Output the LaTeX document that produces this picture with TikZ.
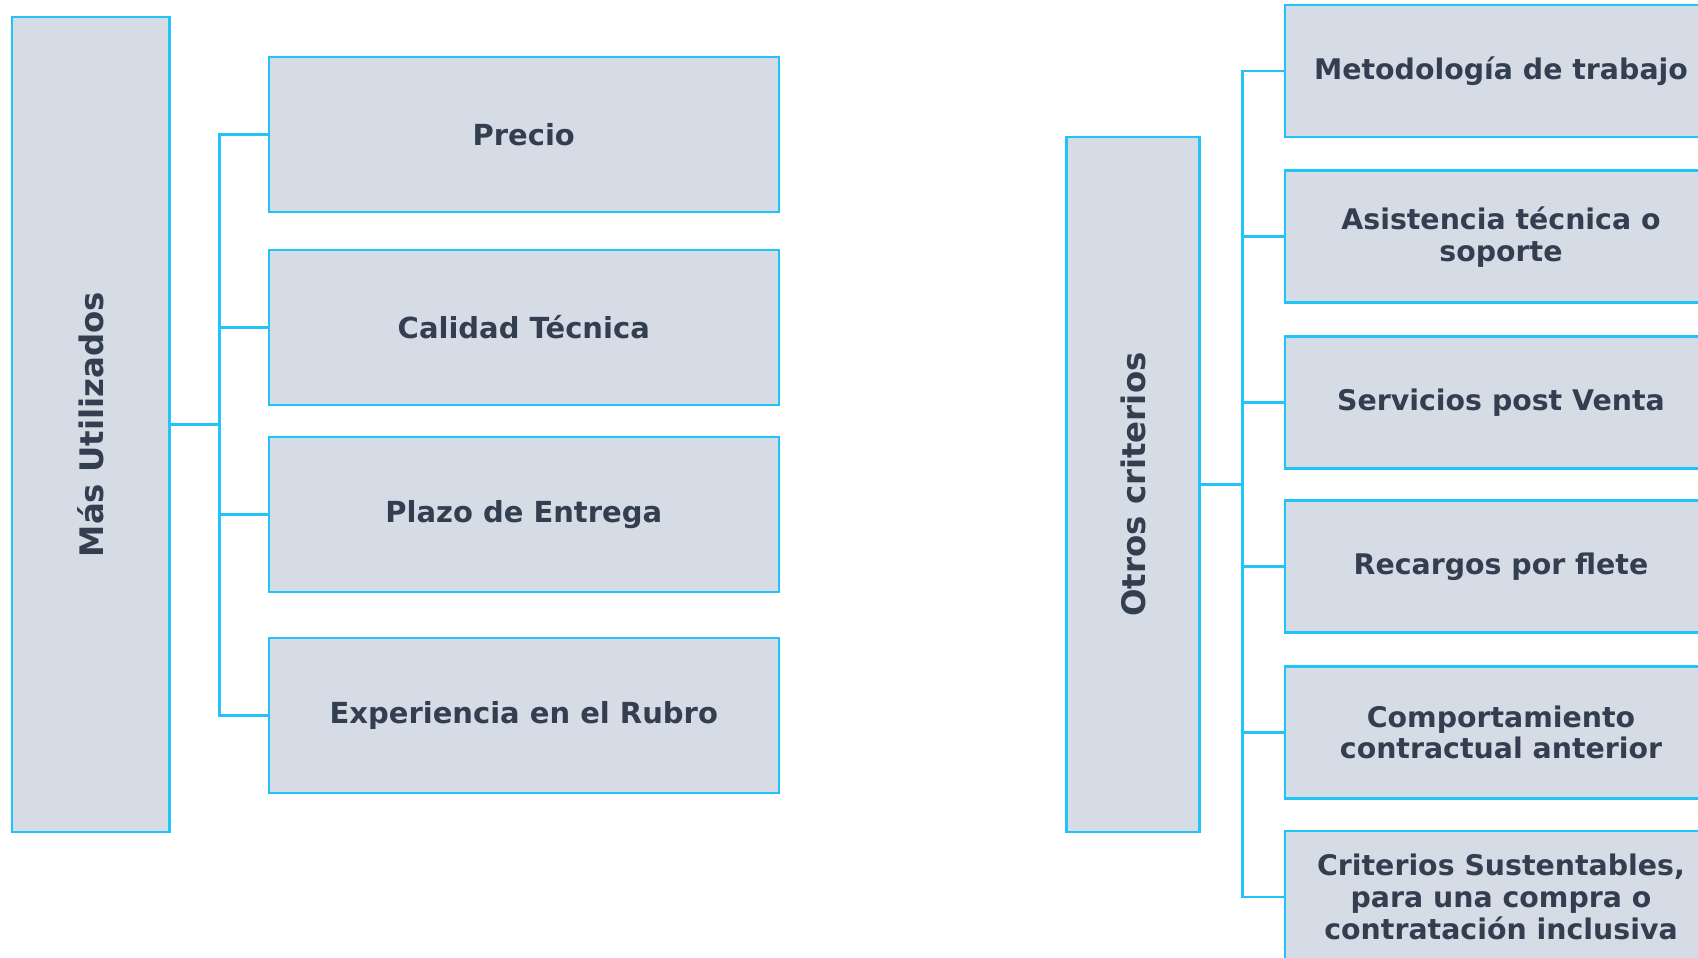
\documentclass[tikz,border=0pt]{standalone}
\usepackage{fontspec}
\setmainfont{DejaVu Sans}
\definecolor{boxfill}{HTML}{D6DCE5}
\definecolor{boxline}{HTML}{22C4F7}
\definecolor{boxtext}{HTML}{333F50}
\tikzstyle{crit} = [draw=boxline,fill=boxfill,line width=1.25pt,text=boxtext,align=center,inner sep=0pt]
\tikzstyle{root} = [crit,font=\fontsize{16.2}{19}\selectfont\bfseries]
\tikzstyle{item} = [crit,font=\fontsize{14.5}{15.9}\selectfont\bfseries,minimum width=255pt,minimum height=77.5pt]
\tikzstyle{extra} = [crit,font=\fontsize{14.2}{15.9}\selectfont\bfseries,minimum width=216pt,minimum height=66pt]
\tikzstyle{link} = [draw=boxline,line width=1.25pt]

\begin{document}
\begin{tikzpicture}[x=0.5pt,y=-0.5pt]
      \useasboundingbox (0,0) rectangle (1698,958);
      \clip (0,0) rectangle (1698,958);
      %roots
      \node[root,minimum width=78.75pt,minimum height=407.5pt] (mas) at (90.75,424.5) {\rotatebox{90}{Más Utilizados}};
      \node[root,minimum width=66.35pt,minimum height=347.5pt] (otros) at (1133,484.5) {\rotatebox{90}{Otros criterios}};
      %nodes
      \foreach \nodename/\y/\label in {
        precio/134.7/Precio,
        calidad/327.5/Calidad Técnica,
        plazo/514.4/Plazo de Entrega,
        rubro/715.7/Experiencia en el Rubro}
      {
        \node[item] (\nodename) at (523.75,\y) {\label};
      };
      \foreach \nodename/\y/\label in {
        metodo/71/Metodología de trabajo,
        asist/236.7/Asistencia técnica o\\soporte,
        post/402.5/Servicios post Venta,
        flete/566.6/Recargos por flete,
        contrato/732.4/Comportamiento\\contractual anterior,
        sust/897/{Criterios Sustentables,\\para una compra o\\contratación inclusiva}}
      {
        \node[extra] (\nodename) at (1501,\y) {\label};
      };
      %edges
      \coordinate (masjoint) at (219.3,424.5);
      \coordinate (otrosjoint) at (1242.6,484.5);
      \foreach \endnode in {precio,calidad,plazo,rubro}
      {
        \draw[link] (mas.east) -- (masjoint) |- (\endnode.west);
      };
      \foreach \endnode in {metodo,asist,post,flete,contrato,sust}
      {
        \draw[link] (otros.east) -- (otrosjoint) |- (\endnode.west);
      };
    \end{tikzpicture}
\end{document}
